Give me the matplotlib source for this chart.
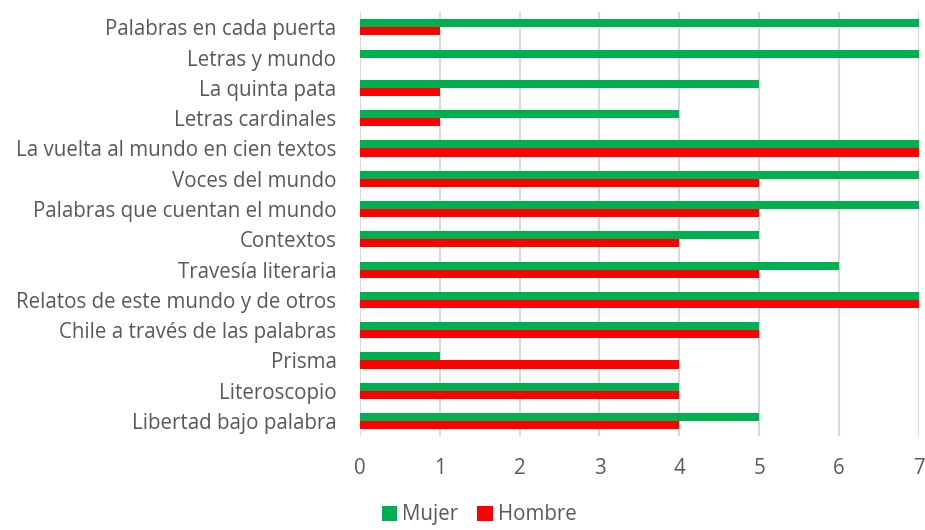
import numpy as np
import matplotlib
matplotlib.use('Agg')
from matplotlib import pyplot as plt

plt.rcParams['font.family'] = ['Open Sans', 'DejaVu Sans']

categorias = ['Palabras en cada puerta', 'Letras y mundo', 'La quinta pata',
              'Letras cardinales', 'La vuelta al mundo en cien textos',
              'Voces del mundo', 'Palabras que cuentan el mundo', 'Contextos',
              'Travesía literaria', 'Relatos de este mundo y de otros',
              'Chile a través de las palabras', 'Prisma', 'Literoscopio',
              'Libertad bajo palabra']
mujer = [7, 7, 5, 4, 7, 7, 7, 5, 6, 7, 5, 1, 4, 5]
hombre = [1, 0, 1, 1, 7, 5, 5, 4, 5, 7, 5, 4, 4, 4]

verde = '#00B050'
rojo = '#FF0000'
gris = '#595959'

fig = plt.figure(figsize=(9.25, 5.3), dpi=100)
ax = fig.add_axes([0.3892, 0.177, 0.604, 0.8])

y = np.arange(len(categorias))
h = 0.265
ax.barh(y - h / 2, mujer, height=h, color=verde, label='Mujer', zorder=3)
ax.barh(y + h / 2, hombre, height=h, color=rojo, label='Hombre', zorder=3)

ax.set_ylim(len(categorias) - 0.5, -0.5)
ax.set_xlim(0, 7)
ax.set_xticks(range(8))
ax.set_yticks(y)
ax.set_yticklabels(categorias)
ax.tick_params(axis='both', length=0, labelsize=14.8, colors=gris)
ax.tick_params(axis='x', pad=16)
ax.tick_params(axis='y', pad=17)
ax.grid(axis='x', color='#D9D9D9', linewidth=1.5, zorder=0)
for s in ax.spines.values():
    s.set_visible(False)

# leyenda abajo, casi pegada al borde como en el original
fig.legend(loc='lower center', bbox_to_anchor=(0.518, -0.026), ncol=2,
           frameon=False, fontsize=14.8, labelcolor=gris,
           handlelength=0.75, handleheight=0.75, handletextpad=0.25,
           columnspacing=0.9)

fig.savefig('out.png', dpi=100)
